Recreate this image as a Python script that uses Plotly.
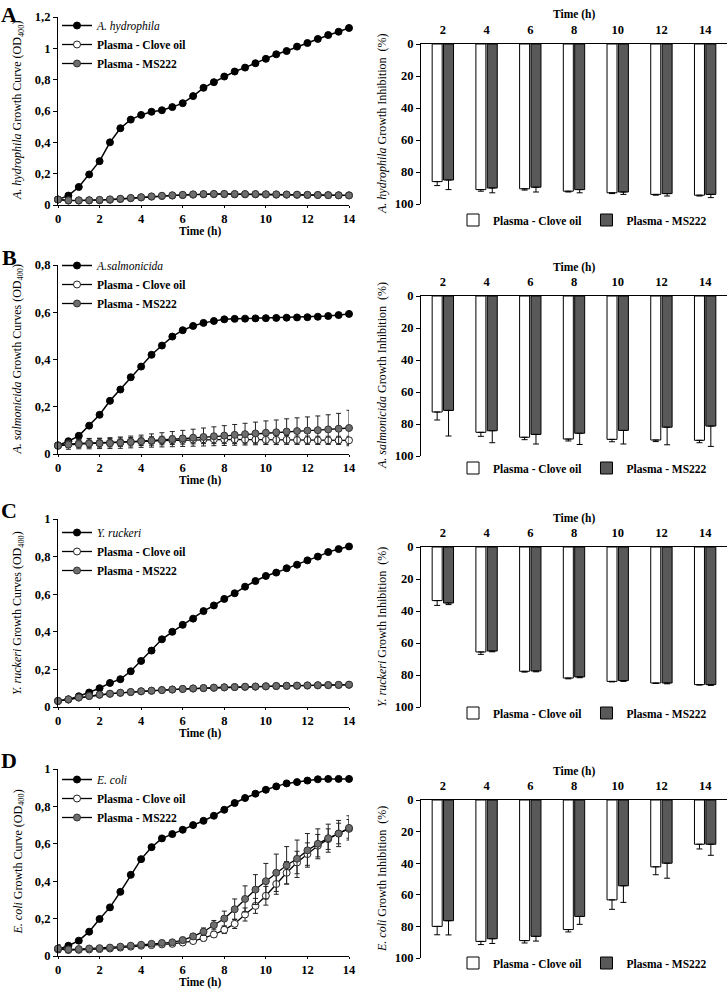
import plotly.graph_objects as go

FONT = "Liberation Serif"

# ---------------- data ----------------
time_h = [0, 0.5, 1, 1.5, 2, 2.5, 3, 3.5, 4, 4.5, 5, 5.5, 6, 6.5, 7, 7.5, 8, 8.5, 9, 9.5,
          10, 10.5, 11, 11.5, 12, 12.5, 13, 13.5, 14]

# Panel A: A. hydrophila
A_species = [0.035, 0.06, 0.115, 0.195, 0.28, 0.40, 0.49, 0.545, 0.575, 0.595, 0.605, 0.625, 0.65, 0.695,
             0.748, 0.784, 0.82, 0.852, 0.877, 0.905, 0.933, 0.962, 0.983, 1.011, 1.034, 1.06, 1.085, 1.106, 1.13]
A_clove = [0.035, 0.028, 0.028, 0.029, 0.030, 0.033, 0.038, 0.043, 0.048, 0.053, 0.057, 0.060, 0.063, 0.066,
           0.068, 0.069, 0.069, 0.068, 0.068, 0.068, 0.067, 0.066, 0.066, 0.065, 0.064, 0.064, 0.063, 0.062, 0.062]
A_clove_err = [0.005, 0.008, 0.010, 0.010, 0.012, 0.012, 0.012, 0.012, 0.012, 0.012, 0.012, 0.012, 0.012, 0.013,
               0.013, 0.013, 0.013, 0.013, 0.013, 0.013, 0.012, 0.012, 0.012, 0.012, 0.012, 0.011, 0.011, 0.011, 0.011]
A_ms = [0.035, 0.030, 0.030, 0.031, 0.033, 0.036, 0.040, 0.045, 0.050, 0.055, 0.059, 0.062, 0.065, 0.068,
        0.070, 0.071, 0.071, 0.070, 0.070, 0.070, 0.069, 0.068, 0.067, 0.066, 0.065, 0.064, 0.063, 0.062, 0.061]
A_ms_err = [0.005, 0.010, 0.012, 0.012, 0.013, 0.013, 0.013, 0.013, 0.013, 0.013, 0.013, 0.013, 0.013, 0.013,
            0.013, 0.013, 0.013, 0.013, 0.013, 0.013, 0.013, 0.013, 0.013, 0.013, 0.013, 0.013, 0.013, 0.013, 0.013]

# Panel B: A. salmonicida
B_species = [0.037, 0.054, 0.077, 0.12, 0.166, 0.225, 0.273, 0.325, 0.37, 0.42, 0.459, 0.497, 0.524, 0.542,
             0.555, 0.563, 0.570, 0.572, 0.573, 0.574, 0.575, 0.576, 0.577, 0.578, 0.579, 0.581, 0.584, 0.588, 0.593]
B_clove = [0.035, 0.042, 0.045, 0.046, 0.047, 0.048, 0.050, 0.052, 0.054, 0.055, 0.057, 0.058, 0.060, 0.061,
           0.062, 0.062, 0.062, 0.062, 0.061, 0.061, 0.060, 0.060, 0.060, 0.059, 0.059, 0.058, 0.058, 0.058, 0.058]
B_clove_err = [0.005, 0.015, 0.018, 0.018, 0.018, 0.018, 0.018, 0.018, 0.018, 0.018, 0.018, 0.018, 0.018, 0.018,
               0.018, 0.018, 0.018, 0.018, 0.018, 0.018, 0.018, 0.018, 0.018, 0.017, 0.017, 0.017, 0.017, 0.017, 0.017]
B_ms = [0.035, 0.040, 0.042, 0.044, 0.045, 0.046, 0.048, 0.051, 0.054, 0.057, 0.060, 0.063, 0.066, 0.069,
        0.072, 0.075, 0.078, 0.081, 0.084, 0.087, 0.090, 0.092, 0.095, 0.097, 0.099, 0.101, 0.104, 0.107, 0.110]
B_ms_err = [0.005, 0.020, 0.020, 0.022, 0.022, 0.023, 0.024, 0.025, 0.026, 0.028, 0.030, 0.032, 0.034, 0.036,
            0.038, 0.040, 0.042, 0.044, 0.046, 0.048, 0.050, 0.052, 0.054, 0.056, 0.058, 0.060, 0.062, 0.065, 0.075]

# Panel C: Y. ruckeri
C_species = [0.032, 0.04, 0.057, 0.077, 0.10, 0.128, 0.148, 0.19, 0.245, 0.30, 0.36, 0.40, 0.437, 0.47,
             0.51, 0.54, 0.575, 0.605, 0.64, 0.67, 0.697, 0.715, 0.738, 0.757, 0.78, 0.80, 0.824, 0.84, 0.854]
C_clove = [0.032, 0.040, 0.050, 0.058, 0.065, 0.070, 0.075, 0.079, 0.083, 0.086, 0.090, 0.093, 0.096, 0.098,
           0.100, 0.102, 0.104, 0.106, 0.107, 0.108, 0.110, 0.111, 0.112, 0.113, 0.114, 0.115, 0.116, 0.117, 0.118]
C_clove_err = [0.003, 0.003, 0.003, 0.003, 0.003, 0.003, 0.003, 0.003, 0.003, 0.003, 0.003, 0.003, 0.003, 0.003,
               0.003, 0.003, 0.003, 0.003, 0.003, 0.003, 0.003, 0.003, 0.003, 0.003, 0.003, 0.003, 0.003, 0.003, 0.003]
C_ms = [0.032, 0.041, 0.051, 0.059, 0.066, 0.071, 0.076, 0.080, 0.084, 0.087, 0.090, 0.093, 0.096, 0.099,
        0.101, 0.103, 0.105, 0.106, 0.108, 0.109, 0.110, 0.112, 0.113, 0.114, 0.115, 0.116, 0.117, 0.118, 0.119]
C_ms_err = [0.003, 0.003, 0.003, 0.003, 0.003, 0.003, 0.003, 0.003, 0.003, 0.003, 0.003, 0.003, 0.003, 0.003,
            0.003, 0.003, 0.003, 0.003, 0.003, 0.003, 0.003, 0.003, 0.003, 0.003, 0.003, 0.003, 0.003, 0.003, 0.003]

# Panel D: E. coli
D_species = [0.036, 0.055, 0.082, 0.13, 0.198, 0.26, 0.343, 0.434, 0.518, 0.582, 0.629, 0.652, 0.675, 0.70,
             0.723, 0.75, 0.782, 0.818, 0.845, 0.868, 0.889, 0.907, 0.923, 0.93, 0.938, 0.945, 0.947, 0.947, 0.947]
D_clove = [0.038, 0.032, 0.033, 0.035, 0.037, 0.040, 0.045, 0.050, 0.055, 0.058, 0.062, 0.065, 0.072, 0.080,
           0.096, 0.115, 0.140, 0.172, 0.222, 0.268, 0.322, 0.385, 0.445, 0.500, 0.545, 0.590, 0.625, 0.655, 0.680]
D_clove_err = [0.020, 0.010, 0.010, 0.010, 0.010, 0.010, 0.010, 0.010, 0.010, 0.010, 0.012, 0.012, 0.012, 0.012,
               0.015, 0.015, 0.020, 0.025, 0.035, 0.040, 0.050, 0.055, 0.060, 0.060, 0.060, 0.060, 0.055, 0.055, 0.050]
D_ms = [0.040, 0.035, 0.037, 0.040, 0.042, 0.045, 0.050, 0.055, 0.060, 0.065, 0.070, 0.073, 0.085, 0.105,
        0.130, 0.165, 0.200, 0.250, 0.305, 0.355, 0.400, 0.445, 0.485, 0.520, 0.565, 0.600, 0.630, 0.655, 0.685]
D_ms_err = [0.020, 0.010, 0.010, 0.010, 0.010, 0.010, 0.010, 0.010, 0.010, 0.010, 0.012, 0.012, 0.015, 0.015,
            0.020, 0.025, 0.040, 0.055, 0.070, 0.080, 0.095, 0.100, 0.100, 0.100, 0.090, 0.080, 0.075, 0.070, 0.065]

# Inhibition bars
hours = ["2", "4", "6", "8", "10", "12", "14"]
A_bar_clove = [86, 91, 90.5, 92, 93, 94, 94.5]
A_bar_clove_err = [2.5, 1, 0.8, 0.5, 0.5, 0.5, 0.5]
A_bar_ms = [85, 90, 89.5, 91, 92.5, 93.5, 94]
A_bar_ms_err = [6, 3, 3, 2, 1.5, 1.5, 2]
B_bar_clove = [72.5, 85.2, 88.3, 89.4, 89.6, 90, 90.2]
B_bar_clove_err = [5, 2.5, 1.5, 1.2, 1.5, 1, 1.5]
B_bar_ms = [71.5, 84.2, 86.5, 85.8, 84, 82, 81.3]
B_bar_ms_err = [16, 7.5, 6, 7, 8.5, 11, 12.7]
C_bar_clove = [33.5, 65.6, 77.7, 81.9, 84, 85, 86]
C_bar_clove_err = [3, 1.5, 0.5, 0.5, 0.3, 0.3, 0.3]
C_bar_ms = [35, 65, 77.5, 81.2, 83.5, 85, 86]
C_bar_ms_err = [1, 0.5, 0.5, 0.5, 0.5, 0.5, 0.5]
D_bar_clove = [80, 89.5, 89, 82, 63.2, 42.3, 28]
D_bar_clove_err = [5.3, 2, 1.5, 1.5, 6, 5, 3]
D_bar_ms = [76.4, 87.8, 86.3, 73.7, 54.3, 40, 28]
D_bar_ms_err = [9, 3, 3, 5, 10.5, 9.5, 7]

species_names = ["A. hydrophila", "A.salmonicida", "Y. ruckeri", "E. coli"]
species_axis = ["A. hydrophila", "A. salmonicida", "Y. ruckeri", "E. coli"]
curve_word = ["Curve", "Curves", "Curves", "Curve"]
panel_letters = ["A", "B", "C", "D"]
line_ymax = [1.2, 0.8, 1.0, 1.0]

# ---------------- layout geometry (pixels) ----------------
W, H = 728, 991
line_x = (58, 349)
bar_x = (421, 727)
line_y = [(17, 205), (265, 454), (519, 707), (769, 956)]
bar_y = [(44, 204), (296, 456), (547, 707), (800, 958)]
line_leg_top = [11, 251, 518, 765]
bar_leg_y = [220, 468, 713, 963]
letter_y = [14, 257, 510, 760]


def px(x):
    return x / W


def py(y):
    return 1 - y / H


line_data = [
    (A_species, A_clove, A_clove_err, A_ms, A_ms_err),
    (B_species, B_clove, B_clove_err, B_ms, B_ms_err),
    (C_species, C_clove, C_clove_err, C_ms, C_ms_err),
    (D_species, D_clove, D_clove_err, D_ms, D_ms_err),
]
bar_data = [
    (A_bar_clove, A_bar_clove_err, A_bar_ms, A_bar_ms_err),
    (B_bar_clove, B_bar_clove_err, B_bar_ms, B_bar_ms_err),
    (C_bar_clove, C_bar_clove_err, C_bar_ms, C_bar_ms_err),
    (D_bar_clove, D_bar_clove_err, D_bar_ms, D_bar_ms_err),
]

fig = go.Figure()
layout = dict(
    width=W, height=H, margin=dict(l=0, r=0, t=0, b=0),
    paper_bgcolor="white", plot_bgcolor="white",
    separators=",.", font=dict(family=FONT, color="black", size=12),
    barmode="group", bargap=0.48, bargroupgap=0.12,
    showlegend=True, annotations=[],
)

tickfont = dict(family=FONT, size=12.5, color="black", weight="bold")
MS_GRAY = "#6e6e6e"
BAR_GRAY = "#595959"

for i in range(4):
    li = 2 * i + 1   # line axes index
    bi = 2 * i + 2   # bar axes index
    lx, ly = f"x{li}", f"y{li}"
    bx, by = f"x{bi}", f"y{bi}"
    leg_line = "legend" if i == 0 else f"legend{2 * i + 1}"
    leg_bar = f"legend{2 * i + 2}"
    sp, cl, cle, ms, mse = line_data[i]

    fig.add_trace(go.Scatter(
        x=time_h, y=sp, mode="lines+markers", name=f"<i>{species_names[i]}</i>",
        line=dict(color="black", width=1.5),
        marker=dict(color="black", size=7, line=dict(color="black", width=1)),
        xaxis=lx, yaxis=ly, legend=leg_line, cliponaxis=False))
    fig.add_trace(go.Scatter(
        x=time_h, y=cl, mode="lines+markers", name="<b>Plasma - Clove oil</b>",
        line=dict(color="black", width=1.3),
        marker=dict(color="white", size=7, line=dict(color="#222222", width=1)),
        error_y=dict(type="data", array=cle, color="#222222", thickness=1, width=2.5),
        xaxis=lx, yaxis=ly, legend=leg_line, cliponaxis=False))
    fig.add_trace(go.Scatter(
        x=time_h, y=ms, mode="lines+markers", name="<b>Plasma - MS222</b>",
        line=dict(color="black", width=1.3),
        marker=dict(color=MS_GRAY, size=7, line=dict(color="#333333", width=1)),
        error_y=dict(type="data", array=mse, color="#222222", thickness=1, width=2.5),
        xaxis=lx, yaxis=ly, legend=leg_line, cliponaxis=False))

    bc, bce, bm, bme = bar_data[i]
    fig.add_trace(go.Bar(
        x=hours, y=bc, name="<b>Plasma - Clove oil</b>",
        marker=dict(color="white", line=dict(color="black", width=1)),
        error_y=dict(type="data", symmetric=False, array=bce, arrayminus=[0] * len(bce),
                     color="black", thickness=1, width=3),
        xaxis=bx, yaxis=by, legend=leg_bar))
    fig.add_trace(go.Bar(
        x=hours, y=bm, name="<b>Plasma - MS222</b>",
        marker=dict(color=BAR_GRAY, line=dict(color="black", width=1)),
        error_y=dict(type="data", symmetric=False, array=bme, arrayminus=[0] * len(bme),
                     color="black", thickness=1, width=3),
        xaxis=bx, yaxis=by, legend=leg_bar))

    ky = "" if li == 1 else str(li)
    layout[f"xaxis{ky}"] = dict(
        domain=[px(line_x[0]), px(line_x[1])], anchor=ly, range=[0, 14], dtick=2, tick0=0,
        showline=True, linecolor="black", linewidth=1.2, ticks="outside", ticklen=2,
        tickcolor="black", showgrid=False, zeroline=False, tickfont=tickfont, automargin=False)
    layout[f"yaxis{ky}"] = dict(
        domain=[py(line_y[i][1]), py(line_y[i][0])], anchor=lx, range=[0, line_ymax[i]], dtick=0.2,
        showline=True, linecolor="black", linewidth=1.2, ticks="outside", ticklen=4,
        tickcolor="black", showgrid=False, zeroline=False, tickfont=tickfont, automargin=False)
    layout[f"xaxis{bi}"] = dict(
        domain=[px(bar_x[0]), px(bar_x[1])], anchor=by, type="category", range=[-0.5, 6.5],
        side="top", showline=True, linecolor="black", linewidth=1.2, ticks="",
        showgrid=False, zeroline=False, tickfont=tickfont, automargin=False,
        ticklabelstandoff=4)
    layout[f"yaxis{bi}"] = dict(
        domain=[py(bar_y[i][1]), py(bar_y[i][0])], anchor=bx, range=[100, 0], dtick=20,
        showline=True, linecolor="black", linewidth=1.2, ticks="outside", ticklen=4,
        tickcolor="black", showgrid=False, zeroline=False, tickfont=tickfont, automargin=False)

    lkey = "legend" if i == 0 else f"legend{2 * i + 1}"
    layout[lkey] = dict(
        x=px(57), y=py(line_leg_top[i]), xanchor="left", yanchor="top",
        bgcolor="rgba(0,0,0,0)", font=dict(family=FONT, size=11.5, color="black"),
        tracegroupgap=0, itemwidth=30)
    layout[f"legend{2 * i + 2}"] = dict(
        x=px(712), y=py(bar_leg_y[i]), xanchor="right", yanchor="middle", orientation="h",
        bgcolor="rgba(0,0,0,0)", font=dict(family=FONT, size=11.5, color="black"),
        itemwidth=30)

    ymid_line = py((line_y[i][0] + line_y[i][1]) / 2)
    ymid_bar = py((bar_y[i][0] + bar_y[i][1]) / 2)
    ann = layout["annotations"]
    ann.append(dict(xref="paper", yref="paper", x=px(18), y=ymid_line, textangle=-90,
                    text=f"<i>{species_axis[i]}</i> Growth {curve_word[i]} (OD<sub>400</sub>)",
                    showarrow=False, font=dict(family=FONT, size=12), xanchor="center", yanchor="middle"))
    ann.append(dict(xref="paper", yref="paper", x=px(200),
                    y=py(line_y[i][1] + 26), text="<b>Time (h)</b>", showarrow=False,
                    font=dict(family=FONT, size=11.5), xanchor="center", yanchor="middle"))
    ann.append(dict(xref="paper", yref="paper", x=px(382), y=ymid_bar, textangle=-90,
                    text=f"<i>{species_axis[i]}</i> Growth Inhibition  (%)",
                    showarrow=False, font=dict(family=FONT, size=12), xanchor="center", yanchor="middle"))
    ann.append(dict(xref="paper", yref="paper", x=px((bar_x[0] + bar_x[1]) / 2),
                    y=py(bar_y[i][0] - 29), text="<b>Time (h)</b>", showarrow=False,
                    font=dict(family=FONT, size=11.5), xanchor="center", yanchor="middle"))
    ann.append(dict(xref="paper", yref="paper", x=px(9), y=py(letter_y[i]),
                    text=f"<b>{panel_letters[i]}</b>", showarrow=False,
                    font=dict(family=FONT, size=22), xanchor="center", yanchor="middle"))

fig.update_layout(**layout)
fig.write_html("out.html")
